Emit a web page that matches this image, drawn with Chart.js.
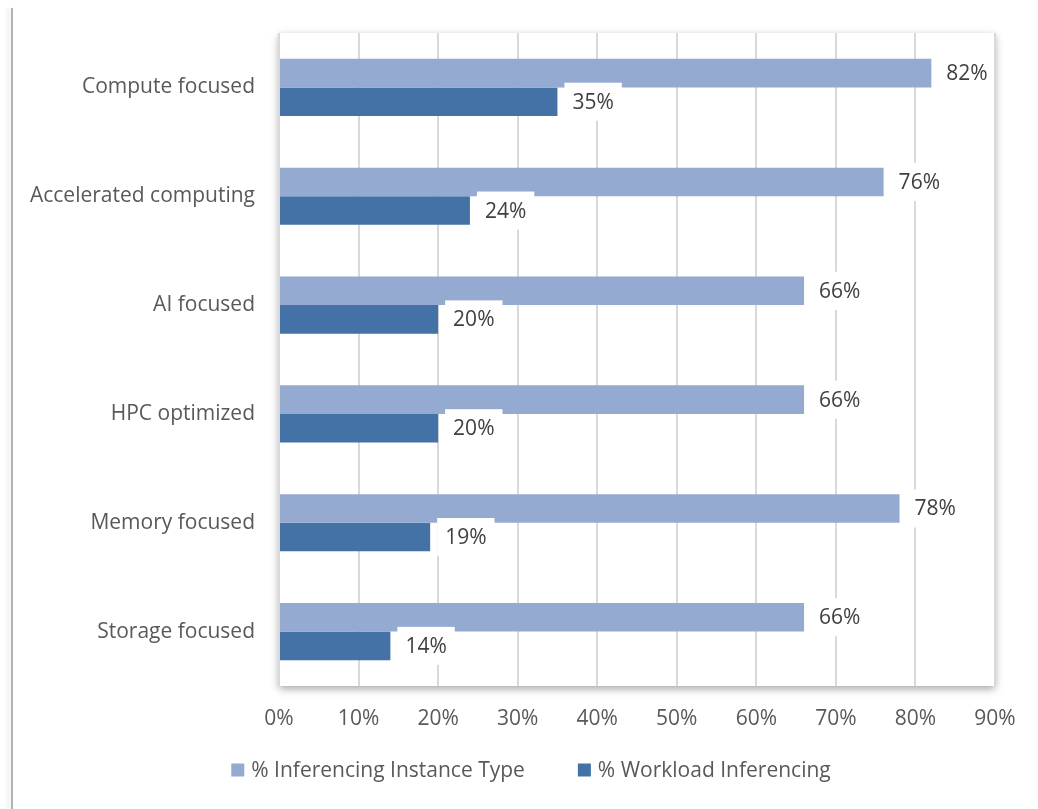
<!DOCTYPE html>
<html>
<head>
<meta charset="utf-8">
<script src="https://cdn.jsdelivr.net/npm/chart.js@4/dist/chart.umd.min.js"></script>
<style>
  html, body { margin: 0; padding: 0; background: #fff; }
  #wrap { position: relative; width: 1038px; height: 809px; }
  /* left edge of the chart frame */
  #frame-edge {
    position: absolute; left: 11px; top: 8px; width: 2px; height: 801px;
    background: #b3b3b3; box-shadow: -3px 0 4px rgba(0, 0, 0, 0.12);
  }
  canvas { position: absolute; left: 0; top: 0; }
</style>
</head>
<body>
<div id="wrap">
  <div id="frame-edge"></div>
  <canvas id="chart" width="1038" height="809"></canvas>
</div>
<script>
const categories = ['Compute focused', 'Accelerated computing', 'AI focused',
                    'HPC optimized', 'Memory focused', 'Storage focused']
const instanceType = [82, 76, 66, 66, 78, 66]
const workload = [35, 24, 20, 20, 19, 14]
const seriesNames = ['% Inferencing Instance Type', '% Workload Inferencing']
const seriesColors = ['#95aad1', '#4472a7']

const TEXT = '#595959'
const LABEL_TEXT = '#404040'
const FONT = "'Open Sans', sans-serif"
const FONT_SIZE = 21
const PLOT_TOP = 33
const PLOT_BOTTOM = 686
const LEGEND_SPACE = 70

// white drop-shadowed panel behind the plot area
const plotShadow = {
  id: 'plotShadow',
  beforeDraw(chart) {
    let {ctx, chartArea: a} = chart
    ctx.save()
    ctx.shadowColor = 'rgba(0,0,0,0.35)'
    ctx.shadowBlur = 8
    ctx.shadowOffsetY = 3
    ctx.fillStyle = '#fff'
    ctx.fillRect(a.left, a.top, a.right - a.left, a.bottom - a.top)
    ctx.restore()
  }
}

// value labels on white boxes just past the end of each bar
const valueLabels = {
  id: 'valueLabels',
  afterDatasetsDraw(chart) {
    let ctx = chart.ctx
    let right = chart.chartArea.right - 2
    ctx.save()
    ctx.font = FONT_SIZE + 'px ' + FONT
    ctx.textBaseline = 'middle'
    chart.data.datasets.forEach((ds, i) => {
      chart.getDatasetMeta(i).data.forEach((bar, j) => {
        let text = ds.data[j] + '%'
        let h = 38
        let x = bar.x + 7
        let w = Math.min(ctx.measureText(text).width + 16, right - x)
        ctx.fillStyle = '#fff'
        ctx.fillRect(x, bar.y - h / 2, w, h)
        ctx.fillStyle = LABEL_TEXT
        ctx.fillText(text, x + 8, bar.y + 1)
      })
    })
    ctx.restore()
  }
}

// legend row under the axis: square swatch + series name, centred
const bottomLegend = {
  id: 'bottomLegend',
  afterDraw(chart) {
    let ctx = chart.ctx
    let box = 13, gapText = 7, gapItem = 53, y = 770
    ctx.save()
    ctx.font = FONT_SIZE + 'px ' + FONT
    ctx.textBaseline = 'middle'
    let widths = chart.data.datasets.map(ds => box + gapText + ctx.measureText(ds.label).width)
    let total = widths.reduce((a, b) => a + b, 0) + gapItem * (widths.length - 1)
    let x = (chart.width - total) / 2 + 12
    chart.data.datasets.forEach((ds, i) => {
      ctx.fillStyle = ds.backgroundColor
      ctx.fillRect(x, y - box / 2, box, box)
      ctx.fillStyle = TEXT
      ctx.fillText(ds.label, x + box + gapText, y + 1)
      x += widths[i] + gapItem
    })
    ctx.restore()
  }
}

new Chart(document.getElementById('chart'), {
  type: 'bar',
  data: {
    labels: categories,
    datasets: [
      {label: seriesNames[0], data: instanceType, backgroundColor: seriesColors[0]},
      {label: seriesNames[1], data: workload, backgroundColor: seriesColors[1]}
    ]
  },
  options: {
    indexAxis: 'y',
    responsive: false,
    animation: false,
    categoryPercentage: 0.525,
    barPercentage: 1,
    layout: {padding: {top: PLOT_TOP, right: 43, left: 0, bottom: LEGEND_SPACE}},
    scales: {
      x: {
        min: 0,
        max: 90,
        border: {display: false},
        grid: {color: '#d9d9d9', lineWidth: 2, drawTicks: false},
        ticks: {
          stepSize: 10,
          padding: 20,
          color: TEXT,
          font: {family: FONT, size: FONT_SIZE},
          callback: v => v + '%'
        },
        afterFit(s) {
          s.height = s.chart.height - PLOT_BOTTOM - LEGEND_SPACE
        }
      },
      y: {
        border: {display: false},
        grid: {display: false, drawTicks: false},
        ticks: {padding: 24, color: TEXT, font: {family: FONT, size: FONT_SIZE}},
        afterFit(s) {
          s.width = 279
          // tick padding should only push labels sideways, not shrink the plot
          s.paddingTop = 0
          s.paddingBottom = 0
        }
      }
    },
    plugins: {
      tooltip: {enabled: false},
      legend: {display: false}
    }
  },
  plugins: [plotShadow, valueLabels, bottomLegend]
})
</script>
</body>
</html>
